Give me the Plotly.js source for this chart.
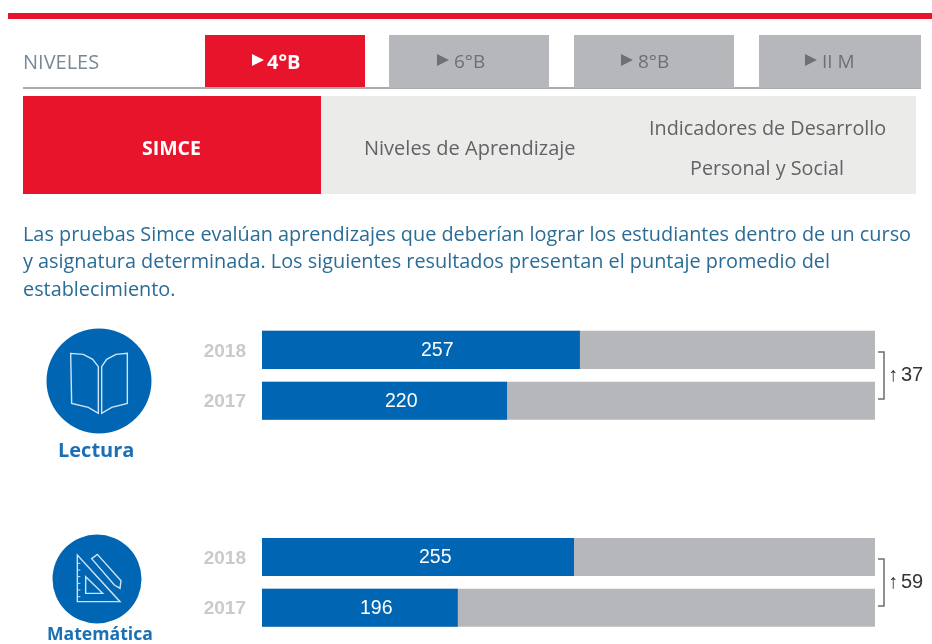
<!DOCTYPE html>
<html><head><meta charset="utf-8">
<script src="https://cdn.plot.ly/plotly-3.0.1.min.js"></script>
<style>html,body{margin:0;padding:0;background:#fff}#c{width:932px;height:644px;filter:blur(0.45px)}</style>
</head><body><div id="c"></div>
<script>
// ---- data
const years = ['2018','2017'];
const lectura = [257,220];
const matematica = [255,196];
const scaleMax = 406.8, scaleMin = 95.6;
const scaleShift2 = 1; // the lower block of the reference sits one unit further left
const deltas = ['37','59'];
const subjects = ['Lectura','Matemática'];
const levels = ['4°B','6°B','8°B','II M'];
const tabsLabel = 'NIVELES';
const sections = ['SIMCE','Niveles de Aprendizaje','Indicadores de Desarrollo','Personal y Social'];
const paragraph = ['Las pruebas Simce evalúan aprendizajes que deberían lograr los estudiantes dentro de un curso',
 'y asignatura determinada. Los siguientes resultados presentan el puntaje promedio del',
 'establecimiento.'];

// ---- helpers: pixels to paper
const W=932,H=644, px=x=>x/W, py=y=>1-y/H;
const BLUE='#0066b3', RED='#e8142b', GREY='#b6b7ba', TXT='#636365', OS='"Open Sans", sans-serif', AR='"Liberation Sans", Arial, sans-serif';
const rect=(x0,y0,x1,y1,c)=>({type:'rect',xref:'paper',yref:'paper',x0:px(x0),x1:px(x1),y0:py(y0),y1:py(y1),fillcolor:c,line:{width:0},layer:'below'});
const circ=(cx,cy,r,c)=>({type:'circle',xref:'paper',yref:'paper',x0:px(cx-r),x1:px(cx+r),y0:py(cy-r),y1:py(cy+r),fillcolor:c,line:{width:0},layer:'below'});
const poly=(pts,opt)=>Object.assign({type:'path',xref:'paper',yref:'paper',layer:'above',line:{width:0},
  path:pts.map((p,i)=>(i?'L':'M')+px(p[0])+','+py(p[1])).join(' ')+(opt&&opt.open?'':' Z')},opt&&opt.s);
const txt=(t,x,y,size,color,anchor,font,bold)=>({text:bold?'<b>'+t+'</b>':t,xref:'paper',yref:'paper',x:px(x),y:py(y),xanchor:anchor||'center',yanchor:'middle',showarrow:false,font:{size,color,family:font||OS},borderpad:0});

const shapes=[], ann=[];
// header
shapes.push(rect(8,13,932,19,RED));
shapes.push(rect(23,87,921,89,'#a9abae'));
const tabX=[[205,365],[389,549],[574,734],[759,921]];
const triX=[252,437,621,805], lblX=[283,469,653,838];
levels.forEach((l,i)=>{
  const on=i===0;
  shapes.push(rect(tabX[i][0],35,tabX[i][1],on?87:88,on?RED:GREY));
  shapes.push(poly([[triX[i],54],[triX[i]+12,60],[triX[i],66]],{s:{fillcolor:on?'#fff':'#6f7073'}}));
  ann.push(txt(l,lblX[i],61,on?20:19,on?'#fff':'#6f7073','center',OS,on));
});
ann.push(txt(tabsLabel,22,61,20,'#7b8794','left'));
shapes.push(rect(23,96,321,194,RED));
shapes.push(rect(321,96,916,194,'#ebebea'));
ann.push(txt(sections[0],171,147.5,19.5,'#fff','center',OS,true));
ann.push(txt(sections[1],470,147.5,20,TXT));
ann.push(txt(sections[2],767,127.5,19.8,TXT));
ann.push(txt(sections[3],767,167.5,19.8,TXT));
paragraph.forEach((p,i)=>ann.push(txt(p,21.5,233+i*27.5,19.85,'#2a6c96','left')));

// icons
shapes.push(circ(99,381,52.5,BLUE));
shapes.push(circ(97,579,44.5,BLUE));
const z=(a)=>a.map(p=>[20+p[0]/3,320+p[1]/3]);
const w={s:{line:{color:'#cfe3f3',width:1.4},fillcolor:'rgba(0,0,0,0)'}};
shapes.push(poly(z([[152,100],[190,103],[218,118],[235,140],[235,280],[205,262],[155,250]]),w));
shapes.push(poly(z([[245,140],[260,118],[288,103],[322,100],[322,250],[275,262],[245,280]]),w));
shapes.push(poly(z([[172,705],[172,845],[300,845]]),w));
shapes.push(poly(z([[197,770],[197,820],[248,820]]),w));
shapes.push(poly(z([[215,716],[232,703],[303,782],[300,805],[283,795]]),w));
[730,750,770,790,810,830].forEach(y=>shapes.push(poly(z([[172,y],[181,y]]),{open:true,s:{line:{color:'#cfe3f3',width:1}}})));
ann.push(txt(subjects[0],96,449.5,20,'#1b6fb5','center',OS,true));
ann.push(txt(subjects[1],99.5,632.5,17.6,'#1b6fb5','center',OS,true));

// brackets + differences
[[352,399,374],[559,606,581]].forEach((b,i)=>{
  shapes.push(poly([[878,b[0]],[884,b[0]],[884,b[1]],[878,b[1]]],{open:true,s:{line:{color:'#6d6e70',width:1.5},fillcolor:'rgba(0,0,0,0)'}}));
  ann.push(txt('<b>↑</b>',893,b[2],20,'#333','center',AR));
  ann.push(txt(deltas[i],899.5,b[2],20,'#333','left',AR));
});

// value labels, sitting a little right of the bar centre as in the reference
const valueLabels=(vals,xaxis,yaxis,lo)=>vals.map((v,i)=>({text:String(v),xref:xaxis,yref:yaxis,x:(v+lo)/2,y:i,xshift:17,yshift:1,showarrow:false,font:{size:19.5,color:'#fff',family:AR}}));
ann.push(...valueLabels(lectura,'x','y',scaleMin),...valueLabels(matematica,'x2','y2',scaleMin+scaleShift2));

const track=(xa,y,mx)=>({type:'bar',orientation:'h',x:years.map(()=>mx),y:years,xaxis:xa,yaxis:y,marker:{color:GREY,line:{width:0}},hoverinfo:'skip'});
const val=(v,xa,y,n)=>({type:'bar',orientation:'h',name:n,x:v,y:years,xaxis:xa,yaxis:y,marker:{color:BLUE,line:{width:0}}});
const yax=(d0,d1,an)=>({type:'category',categoryorder:'array',categoryarray:years,autorange:false,range:[1.5,-0.5],domain:[py(d1),py(d0)],anchor:an,
  showline:false,showgrid:false,zeroline:false,ticks:'',ticklabelstandoff:15,tickfont:{size:19,color:'#cacaca',family:AR,weight:'bold'}});
const xax=(lo,hi,an)=>({domain:[px(262),px(875)],range:[lo,hi],visible:false,fixedrange:true,anchor:an});
const data=[track('x','y',scaleMax),val(lectura,'x','y',subjects[0]),track('x2','y2',scaleMax+scaleShift2),val(matematica,'x2','y2',subjects[1])];
const layout={width:W,height:H,margin:{l:0,r:0,t:0,b:0,pad:0},paper_bgcolor:'#fff',plot_bgcolor:'rgba(0,0,0,0)',showlegend:false,barmode:'overlay',bargap:0.25,
  xaxis:xax(scaleMin,scaleMax,'y'),xaxis2:xax(scaleMin+scaleShift2,scaleMax+scaleShift2,'y2'),
  yaxis:yax(324.5,426.1,'x'),yaxis2:yax(531.6,633.2,'x2'),shapes,annotations:ann};
Plotly.newPlot('c',data,layout,{displayModeBar:false,staticPlot:true});
</script></body></html>
